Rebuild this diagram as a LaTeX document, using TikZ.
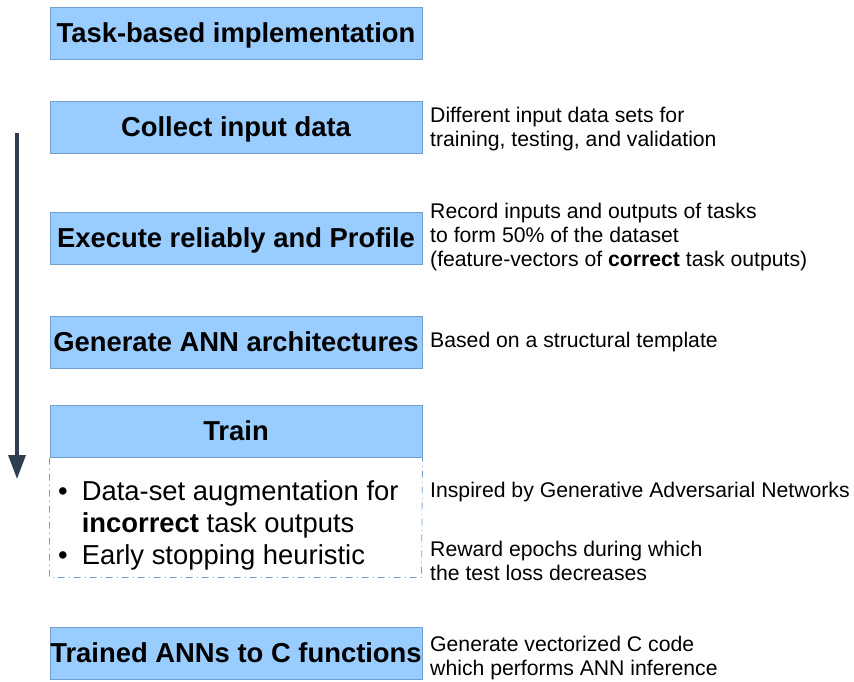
\documentclass[tikz,border=0pt]{standalone}
\usepackage{fontspec}
\setmainfont{Liberation Sans}
\usetikzlibrary{arrows.meta, positioning}
\definecolor{stepfill}{RGB}{153,204,255}
\definecolor{stepline}{RGB}{114,159,207}
\definecolor{flow}{RGB}{46,62,80}

\begin{document}
\begin{tikzpicture}[x=1pt, y=-1pt,
    stepbox/.style={draw=stepline, line width=1pt, fill=stepfill,
      minimum width=372pt, minimum height=52pt, inner sep=0pt,
      text height=22pt, text depth=4pt,
      font=\fontsize{27.4}{30}\selectfont\bfseries},
    notes/.style={anchor=west, align=left, inner sep=0pt,
      font=\fontsize{21.2}{24}\selectfont},
    ]
        \useasboundingbox (0,0) rectangle (854,682);
        \node[stepbox] (impl) at (236, 34) {Task-based implementation};
        \node[stepbox] (collect) at (236, 128) {Collect input data};
        \node[notes] (collectnote) at (430, 129)
          {Different input data sets for\\training, testing, and validation};
        \node[stepbox] (execute) at (236, 238) {Execute reliably and Profile};
        \node[notes] (executenote) at (430, 237)
          {Record inputs and outputs of tasks\\to form 50\% of the dataset\\(feature-vectors of \textbf{correct} task outputs)};
        \node[stepbox] (generate) at (236, 342) {Generate ANN architectures};
        \node[notes] (generatenote) at (430, 342) {Based on a structural template};
        \node[stepbox] (train) at (236, 431) {Train};
        \draw[stepline, line width=0.8pt, dash pattern=on 7pt off 4pt on 1pt off 4pt]
          (train.south west) -- ++(0, 120) -- ++(372, 0) -- (train.south east);
        \node[anchor=north west, inner sep=0pt, font=\fontsize{27.4}{30}\selectfont] (trainlist) at (58, 478)
          {\renewcommand\arraystretch{1.06}%
           \begin{tabular}{@{}l@{\hspace{14pt}}l@{}}
             \textbullet & Data-set augmentation for\\
                         & \textbf{incorrect} task outputs\\
             \textbullet & Early stopping heuristic
           \end{tabular}};
        \node[notes] (augnote) at (430, 492) {Inspired by Generative Adversarial Networks};
        \node[notes] (stopnote) at (430, 561)
          {Reward epochs during which\\the test loss decreases};
        \node[stepbox] (convert) at (236, 653) {Trained ANNs to C functions};
        \node[notes] (convertnote) at (430, 658)
          {Generate vectorized C code\\which performs ANN inference};
        \coordinate (flowtop) at (17, 133);
        \coordinate (flowend) at (17, 479);
        \draw[-{Triangle[length=24pt, width=17pt]}, flow, line width=3.5pt] (flowtop) -- (flowend);
      \end{tikzpicture}
\end{document}
